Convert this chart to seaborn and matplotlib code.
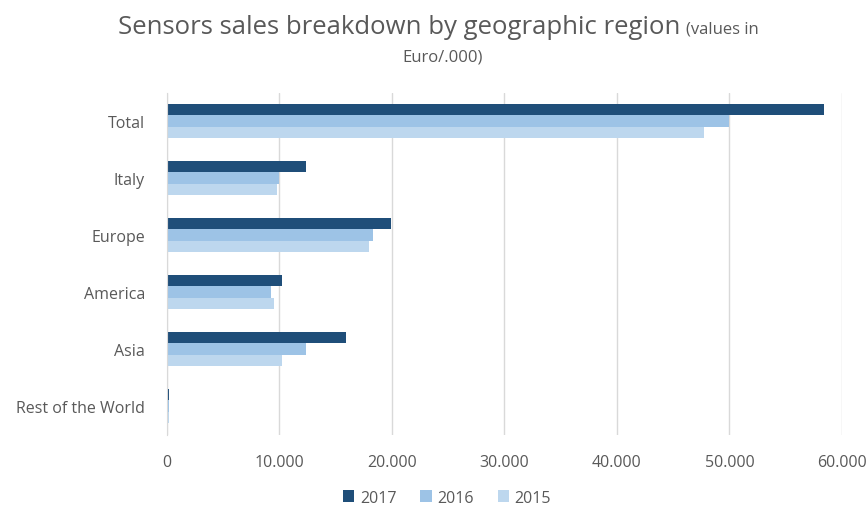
import pandas as pd
import seaborn as sns
import matplotlib.pyplot as plt
from matplotlib.ticker import FuncFormatter

regions = ['Total', 'Italy', 'Europe', 'America', 'Asia', 'Rest of the World']
sales_2017 = [58400, 12400, 19900, 10200, 15900, 200]
sales_2016 = [50000, 9950, 18350, 9250, 12400, 150]
sales_2015 = [47700, 9750, 18000, 9500, 10200, 150]
years = ['2017', '2016', '2015']

df = pd.DataFrame({'region': regions * 3,
                   'year': [y for y in years for _ in regions],
                   'sales': sales_2017 + sales_2016 + sales_2015})

sns.set_style('white')
plt.rcParams['font.family'] = ['Open Sans', 'DejaVu Sans']
grey = '#595959'

fig = plt.figure(figsize=(8.67, 5.1), dpi=100)
ax = fig.add_axes([0.1926, 0.146, 0.7785, 0.6706])
palette = {'2017': '#1F4E79', '2016': '#9DC3E6', '2015': '#BDD7EE'}
sns.barplot(data=df, x='sales', y='region', hue='year', hue_order=years,
            order=regions, palette=palette, width=0.6, saturation=1,
            orient='h', ax=ax, legend=True, linewidth=0)

ax.set_xlim(0, 60000)
ax.set_xticks(range(0, 60001, 10000))
ax.xaxis.set_major_formatter(FuncFormatter(lambda v, p: f'{int(v):,}'.replace(',', '.')))
ax.grid(axis='x', color='#D9D9D9', linewidth=1)
ax.set_axisbelow(True)
for s in ax.spines.values():
    s.set_visible(False)
ax.spines['left'].set_visible(True)
ax.spines['left'].set_color('#D9D9D9')
ax.tick_params(axis='both', length=0, labelsize=11.5, labelcolor=grey)
ax.tick_params(axis='x', pad=14)
ax.tick_params(axis='y', pad=16)
ax.set_xlabel('')
ax.set_ylabel('')

ax.legend(loc='lower center', bbox_to_anchor=(0.415, -0.25), ncol=3, frameon=False,
          fontsize=11.5, labelcolor=grey, handlelength=0.7, handleheight=0.7,
          handletextpad=0.35, columnspacing=1.5)

t1 = fig.text(118 / 867, 1 - 34 / 510, 'Sensors sales breakdown by geographic region',
              fontsize=18.5, color=grey, ha='left', va='baseline')
fig.canvas.draw()
bb = t1.get_window_extent()
fig.text(bb.x1 / fig.bbox.width + 0.006, 1 - 34 / 510, '(values in',
         fontsize=12, color=grey, ha='left', va='baseline')
fig.text(443 / 867, 1 - 62 / 510, 'Euro/.000)', fontsize=12, color=grey,
         ha='center', va='baseline')

fig.savefig('out.png', dpi=100)
